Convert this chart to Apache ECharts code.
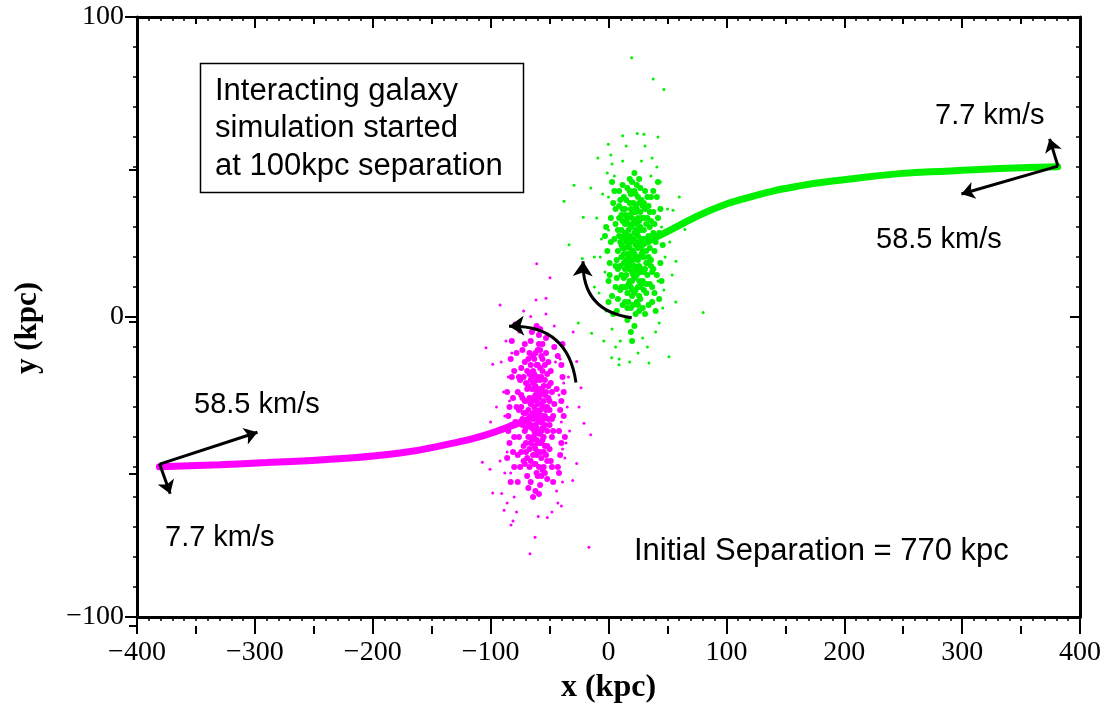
<!DOCTYPE html>
<html><head><meta charset="utf-8">
<script src="https://cdn.jsdelivr.net/npm/echarts@6/dist/echarts.min.js"></script>
<style>html,body{margin:0;padding:0;background:#fff}#c{width:1109px;height:709px}</style>
</head><body><div id="c"></div>
<script>
// ---- data (kpc) ----
const xTickValues = [-400, -300, -200, -100, 0, 100, 200, 300, 400];
const yTickValues = [-100, 0, 100];
const greenPath = [[381,50.1],[332,49.5],[290,48.7],[247,47.8],[205,46.0],[162,43.7],[120,40.0],[86,35.5],[52,28.9],[27,24.0]];
const magentaPath = [[-381,-49.9],[-330,-49.2],[-290,-48.5],[-233,-47.3],[-177,-45.3],[-134,-42.2],[-106,-39.5],[-78,-35.6],[-64,-33.4]];
const greenCore = [[21,22],[18,27],[25,19],[14,31],[29,24],[20,12],[23,35],[11,20],[31,16],[16,8],[27,30],[19,41],[24,5],[9,27],[34,27],[22,17],[15,14],[26,38],[12,36],[30,9],[17,24],[28,21],[21,31],[13,18],[33,33],[19,3],[24,44],[7,13],[36,19],[20,26],[26,12],[16,33],[31,36],[10,9],[23,1],[18,46],[35,11],[6,31],[27,25],[14,23],[22,28],[29,3],[12,44],[38,28],[17,16],[25,33],[20,19],[8,22],[32,22],[24,14],[15,39],[27,43],[19,10],[34,37],[11,14],[23,24],[30,29],[16,-1],[21,38],[26,7],[13,27],[37,15],[18,34],[28,16],[22,48],[9,37],[31,1],[20,15],[25,27],[14,5],[35,23],[17,29],[23,9],[10,25],[28,39],[19,21],[33,14],[15,19],[26,46],[21,4],[12,32],[30,33],[24,20],[6,17],[39,22],[18,12],[27,35],[13,40],[22,-3],[32,8],[16,26],[25,23],[20,33],[8,6],[36,32],[23,41],[11,29],[29,12],[17,20],[26,17],[14,36],[31,26],[19,-5],[24,31],[10,17],[34,4],[21,26],[15,10],[28,33],[18,38],[33,18],[12,23],[22,13],[27,6],[16,43],[38,35],[20,7],[5,26],[30,20],[23,37],[13,13],[25,10],[19,30],[35,30],[9,33],[28,26],[17,5],[22,21],[31,42],[14,28],[26,2],[20,45],[11,10],[32,31],[24,25],[16,17],[37,10],[7,19],[29,37],[18,23],[23,16],[12,4],[27,20],[21,35],[34,25],[15,32],[25,40],[19,17],[30,15],[10,39],[22,8],[28,29],[13,21],[33,40],[17,11],[26,32],[20,-8],[8,29],[36,17],[24,36],[14,16],[29,22],[18,42],[32,11],[21,19],[11,34],[25,15],[16,3],[35,35],[23,29],[12,26],[27,10],[19,36],[30,26],[15,25],[22,32],[6,10],[38,16],[20,22],[26,24],[17,31],[24,28],[20,9],[27,15],[13,10],[30,38],[16,21],[22,42],[25,4],[11,24],[32,18],[19,25],[23,20],[18,18],[28,11],[14,34],[21,14],[26,29],
[0,12],[2,25],[-2,30],[4,38],[1,18],[3,7],[-1,22],[5,42],[2,33],[4,1],[-3,27],[6,36],[0,5],[3,45],[1,14],[40,25],[42,33],[44,18],[39,8],[41,40],[43,28],[45,12],[40,2],[42,45],[38,42],[44,36],[41,14],[39,31],[43,6],[46,24],[8,16],[34,20],[9,42],[36,40],[7,2],[37,5]];
const greenHalo = [[-3,15],[45,30],[0,40],[42,12],[-6,26],[48,20],[3,-4],[40,-5],[-1,48],[44,45],[2,54],[37,53],[-8,8],[50,36],[6,-10],[33,-10],[-10,33],[46,3],[28,52],[12,52],[-5,41],[52,25],[9,-14],[25,-12],[41,40],[-2,2],[47,9],[15,57],[31,57],[43,-2],[-12,20],[54,14],[5,47],[36,47],[-4,-8],[18,-15],[39,22],[0,29],[3,51],[41,50],[-7,20],[45,18],[10,-8],[29,-7],
[19.6,86.4],[37.9,79.3],[47.0,75.8],[12.0,60.4],[24.4,61.2],[30,60.9],[-0.2,57.6],[-37.7,38.6],[-29.3,43.9],[-33.5,24.1],[-22.2,19.5],[80.3,1.5],[64.8,29.2],[54.7,35.6],[57.2,18.6],[51.3,-13.2],[8.9,-15.9],[2.7,-13.6],[34.3,-15.3],[-14.3,-5.4],[-25.6,-2],[-15,43],[-21.4,33.3],[-12,10],[60,40],[57,5],[-9,53],[42,60]];
const magentaCore = [[-62,-31],[-58,-26],[-66,-36],[-55,-40],[-70,-22],[-60,-45],[-64,-18],[-52,-30],[-73,-34],[-57,-13],[-67,-27],[-61,-52],[-54,-21],[-76,-40],[-63,-38],[-59,-9],[-69,-47],[-50,-36],[-65,-24],[-56,-33],[-71,-15],[-62,-58],[-53,-46],[-68,-31],[-60,-20],[-74,-26],[-57,-42],[-48,-25],[-66,-8],[-63,-49],[-55,-28],[-72,-43],[-59,-35],[-67,-19],[-51,-15],[-61,-41],[-78,-30],[-54,-52],[-64,-27],[-58,-4],[-70,-37],[-47,-33],[-62,-23],[-66,-55],[-56,-18],[-73,-11],[-60,-29],[-52,-43],[-68,-40],[-57,-35],[-63,-14],[-49,-48],[-75,-21],[-59,-50],[-65,-33],[-53,-7],[-70,-28],[-61,-37],[-56,-25],[-77,-46],[-62,-12],[-50,-28],[-67,-44],[-58,-56],[-64,-22],[-72,-32],[-55,-37],[-60,-16],[-69,-53],[-52,-19],[-63,-30],[-57,-47],[-74,-17],[-48,-40],[-66,-29],[-59,-24],[-71,-49],[-54,-33],[-61,-3],[-65,-41],[-56,-51],[-79,-35],[-62,-26],[-51,-23],[-68,-14],[-58,-39],[-64,-60],[-53,-31],[-70,-42],[-60,-11],[-55,-45],[-73,-27],[-63,-43],[-49,-18],[-67,-36],[-57,-20],[-75,-50],[-61,-33],[-52,-54],[-66,-16],[-59,-42],[-46,-29],[-69,-24],[-56,-9],[-64,-46],[-71,-38],[-54,-26],[-62,-49],[-58,-17],[-76,-31],[-50,-44],[-65,-20],[-60,-38],[-53,-12],[-68,-57],[-57,-29],[-72,-20],[-63,-34],[-55,-50],[-66,-42],[-59,-6],[-48,-34],[-70,-32],[-61,-21],[-52,-38],[-74,-45],[-56,-41],[-64,-13],[-58,-31],[-67,-50],[-51,-27],[-62,-44],[-69,-18],[-54,-16],[-60,-53],[-73,-36],[-57,-24],[-65,-37],[-49,-22],[-63,-19],[-77,-25],[-55,-34],[-59,-59],[-66,-33],[-52,-48],[-71,-9],[-61,-28],[-58,-45],[-68,-23],[-47,-38],[-64,-40],[-56,-14],[-72,-48],[-60,-34],[-53,-25],[-65,-5],[-62,-39],[-57,-53],[-74,-30],[-50,-31],[-67,-12],[-59,-27],[-70,-45],[-54,-43],[-63,-24],[-80,-40],[-56,-37],[-61,-16],[-66,-48],[-51,-34],[-58,-21],[-69,-35],[-60,-25],[-55,-30],[-64,-32],[-62,-36],[-65,-28],[-59,-32],[-61,-46],[-57,-38],[-68,-35],[-54,-36],[-63,-27],[-60,-42],[-66,-21],[-55,-23],[-71,-28],[-58,-11],
[-84,-30],[-82,-20],[-85,-38],[-81,-45],[-83,-14],[-86,-25],[-80,-50],[-84,-42],[-82,-8],[-85,-33],[-81,-27],[-83,-55],[-80,-18],[-86,-47],[-82,-36],[-40,-28],[-42,-38],[-39,-20],[-41,-46],[-43,-13],[-38,-33],[-42,-52],[-40,-42],[-44,-24],[-39,-9],[-41,-31],[-37,-40],[-43,-50],[-40,-16],[-38,-25],[-77,-55],[-47,-55],[-78,-12],[-46,-10],[-76,-20],[-48,-50]];
const magentaHalo = [[-84,-28],[-40,-35],[-86,-45],[-38,-22],[-82,-12],[-42,-50],[-88,-33],[-36,-42],[-80,-60],[-44,-8],[-85,-20],[-39,-55],[-83,-52],[-41,-14],[-90,-38],[-35,-30],[-87,-8],[-43,-62],[-78,-65],[-46,-3],[-84,-55],[-37,-47],[-89,-25],[-40,-63],[-92,-48],[-33,-38],[-76,-5],[-48,-65],[-81,-68],[-44,-58],[-72,2],[-53,1],[-86,-62],[-45,-15],[-91,-15],[-34,-20],[-80,-2],[-42,-26],[-88,-52],[-39,-44],
[-60.9,17.8],[-49.6,13.1],[-92,4.0],[-61.5,5.7],[-53,6.3],[-66,0.2],[-103.9,-10.2],[-98.2,-15.7],[-27,-14.8],[-23.3,-23.6],[-20.8,-35.4],[-15.1,-39.2],[-107,-48.4],[-100.5,-50.7],[-27,-48.8],[-98.2,-58.6],[-90.6,-58.8],[-30.4,-54.5],[-88.6,-64.4],[-82.7,-69.3],[-59.6,-66.5],[-51.9,-66.8],[-62.3,-73.4],[-66.6,-78.9],[-16.6,-76.7],[-95,-30],[-30,-5],[-100,-35],[-25,-30]];
// velocity arrows [from, to]
const velocityArrows = [
  [[381.3,50.3],[374.2,59.4]],
  [[381.3,50.3],[299.4,41.0]],
  [[-380.8,-49.0],[-297.8,-38.4]],
  [[-380.8,-49.0],[-371.8,-58.9]]
];
// spin arrows [from, to]
const greenSpin = [[19.7,-0.2],[-21.6,18.6]];
const magentaSpin = [[-27.6,-21.8],[-84.4,-3.1]];
const noteLines = ['Interacting galaxy', 'simulation started', 'at 100kpc separation'];
const labelText = {v1: '7.7 km/s', v2: '58.5 km/s', sep: 'Initial Separation = 770 kpc'};

// ---- chart ----
const SERIF = '"Liberation Serif", "Times New Roman", serif';
const SANS = '"Liberation Sans", Arial, sans-serif';
const fmt = v => (v < 0 ? '\u2212' + Math.abs(v) : String(v));
const GRID = {left: 137, right: 29, top: 17, bottom: 83};
const black = '#000';

function baseX(pos, grid, showLine, interval, len, minor, labels) {
  return {
    type: 'value', gridIndex: grid, position: pos, min: -400, max: 400, interval: interval,
    axisLine: {show: showLine, onZero: false, lineStyle: {color: black, width: 3}},
    axisTick: {show: true, inside: pos === 'top', length: len, lineStyle: {color: black, width: 2}},
    minorTick: {show: minor, splitNumber: 10, length: 4, lineStyle: {color: black, width: 1.5}},
    splitLine: {show: false}, minorSplitLine: {show: false},
    axisLabel: labels ? {show: true, fontFamily: SERIF, fontSize: 28, color: black, margin: 22, formatter: fmt} : {show: false}
  };
}
function baseY(pos, grid, showLine, interval, len, minor, labels) {
  return {
    type: 'value', gridIndex: grid, position: pos, min: -100, max: 100, interval: interval,
    axisLine: {show: showLine, onZero: false, lineStyle: {color: black, width: 3}},
    axisTick: {show: true, inside: pos === 'right', length: len, lineStyle: {color: black, width: 2}},
    minorTick: {show: minor, splitNumber: 10, length: 4, lineStyle: {color: black, width: 1.5}},
    splitLine: {show: false}, minorSplitLine: {show: false},
    axisLabel: labels ? {show: true, fontFamily: SERIF, fontSize: 28, color: black, margin: 13, formatter: fmt} : {show: false}
  };
}

const xBottom = baseX('bottom', 0, true, 100, 12, true, true);
xBottom.name = 'x (kpc)'; xBottom.nameLocation = 'middle'; xBottom.nameGap = 50;
xBottom.nameTextStyle = {fontFamily: SERIF, fontWeight: 'bold', fontSize: 32, color: black};
const yLeft = baseY('left', 0, true, 100, 12, true, true);
yLeft.name = 'y (kpc)'; yLeft.nameLocation = 'middle'; yLeft.nameGap = 94;
yLeft.nameTextStyle = {fontFamily: SERIF, fontWeight: 'bold', fontSize: 31, color: black, padding: [0, 22, 0, 0]};

const arrowLine = {color: black, width: 3, opacity: 1};
const textStyle = (t, size) => ({text: t, fontFamily: SANS, fontSize: size, fill: black, textAlign: 'left', textVerticalAlign: 'middle'});

const chart = echarts.init(document.getElementById('c'), null, {renderer: 'canvas'});
chart.setOption({
  animation: false,
  backgroundColor: '#fff',
  grid: [Object.assign({}, GRID), Object.assign({}, GRID)],
  xAxis: [
    xBottom,
    baseX('top', 0, true, 100, 11, true, false),
    baseX('bottom', 1, false, 50, 8, false, false),
    baseX('top', 1, false, 50, 7, false, false)
  ],
  yAxis: [
    yLeft,
    baseY('right', 0, true, 100, 10, true, false),
    baseY('left', 1, false, 50, 8, false, false)
  ],
  series: [
    {type: 'scatter', xAxisIndex: 0, yAxisIndex: 0, data: greenHalo, symbol: 'circle', symbolSize: 3,
     itemStyle: {color: '#00f000', opacity: 1}, silent: true, z: 2},
    {type: 'scatter', xAxisIndex: 0, yAxisIndex: 0, data: greenCore, symbol: 'circle', symbolSize: 6,
     itemStyle: {color: '#00f000', opacity: 1}, silent: true, z: 2},
    {type: 'scatter', xAxisIndex: 0, yAxisIndex: 0, data: magentaHalo, symbol: 'circle', symbolSize: 3,
     itemStyle: {color: '#ff00ff', opacity: 1}, silent: true, z: 2},
    {type: 'scatter', xAxisIndex: 0, yAxisIndex: 0, data: magentaCore, symbol: 'circle', symbolSize: 6,
     itemStyle: {color: '#ff00ff', opacity: 1}, silent: true, z: 2},
    {type: 'line', xAxisIndex: 0, yAxisIndex: 0, data: greenPath, smooth: true, showSymbol: false, symbol: 'none',
     lineStyle: {color: '#00f000', width: 7, cap: 'round'}, silent: true, z: 3},
    {type: 'line', xAxisIndex: 0, yAxisIndex: 0, data: magentaPath, smooth: true, showSymbol: false, symbol: 'none',
     lineStyle: {color: '#ff00ff', width: 7, cap: 'round'}, silent: true, z: 3},
    {type: 'lines', coordinateSystem: 'cartesian2d', xAxisIndex: 0, yAxisIndex: 0,
     data: velocityArrows.map(c => ({coords: c})), symbol: ['none', 'arrow'], symbolSize: 13,
     lineStyle: Object.assign({curveness: 0}, arrowLine), silent: true, z: 5},
    {type: 'lines', coordinateSystem: 'cartesian2d', xAxisIndex: 0, yAxisIndex: 0,
     data: [{coords: greenSpin}], symbol: ['none', 'arrow'], symbolSize: 15,
     lineStyle: Object.assign({curveness: 0.45}, arrowLine), silent: true, z: 5},
    {type: 'lines', coordinateSystem: 'cartesian2d', xAxisIndex: 0, yAxisIndex: 0,
     data: [{coords: magentaSpin}], symbol: ['none', 'arrow'], symbolSize: 15,
     lineStyle: Object.assign({curveness: -0.45}, arrowLine), silent: true, z: 5}
  ],
  graphic: [
    {type: 'rect', shape: {x: 200.5, y: 63.5, width: 323, height: 129}, style: {fill: '#fff', stroke: black, lineWidth: 1.5}, z: 10},
    {type: 'text', x: 215, y: 91, z: 11, style: textStyle(noteLines[0], 31)},
    {type: 'text', x: 215, y: 128, z: 11, style: textStyle(noteLines[1], 31)},
    {type: 'text', x: 215, y: 166, z: 11, style: textStyle(noteLines[2], 31)},
    {type: 'text', x: 935, y: 116, z: 11, style: textStyle(labelText.v1, 29)},
    {type: 'text', x: 876, y: 240, z: 11, style: textStyle(labelText.v2, 29)},
    {type: 'text', x: 194, y: 405, z: 11, style: textStyle(labelText.v2, 29)},
    {type: 'text', x: 165, y: 538, z: 11, style: textStyle(labelText.v1, 29)},
    {type: 'text', x: 634, y: 551, z: 11, style: textStyle(labelText.sep, 31)}
  ]
});
</script></body></html>
